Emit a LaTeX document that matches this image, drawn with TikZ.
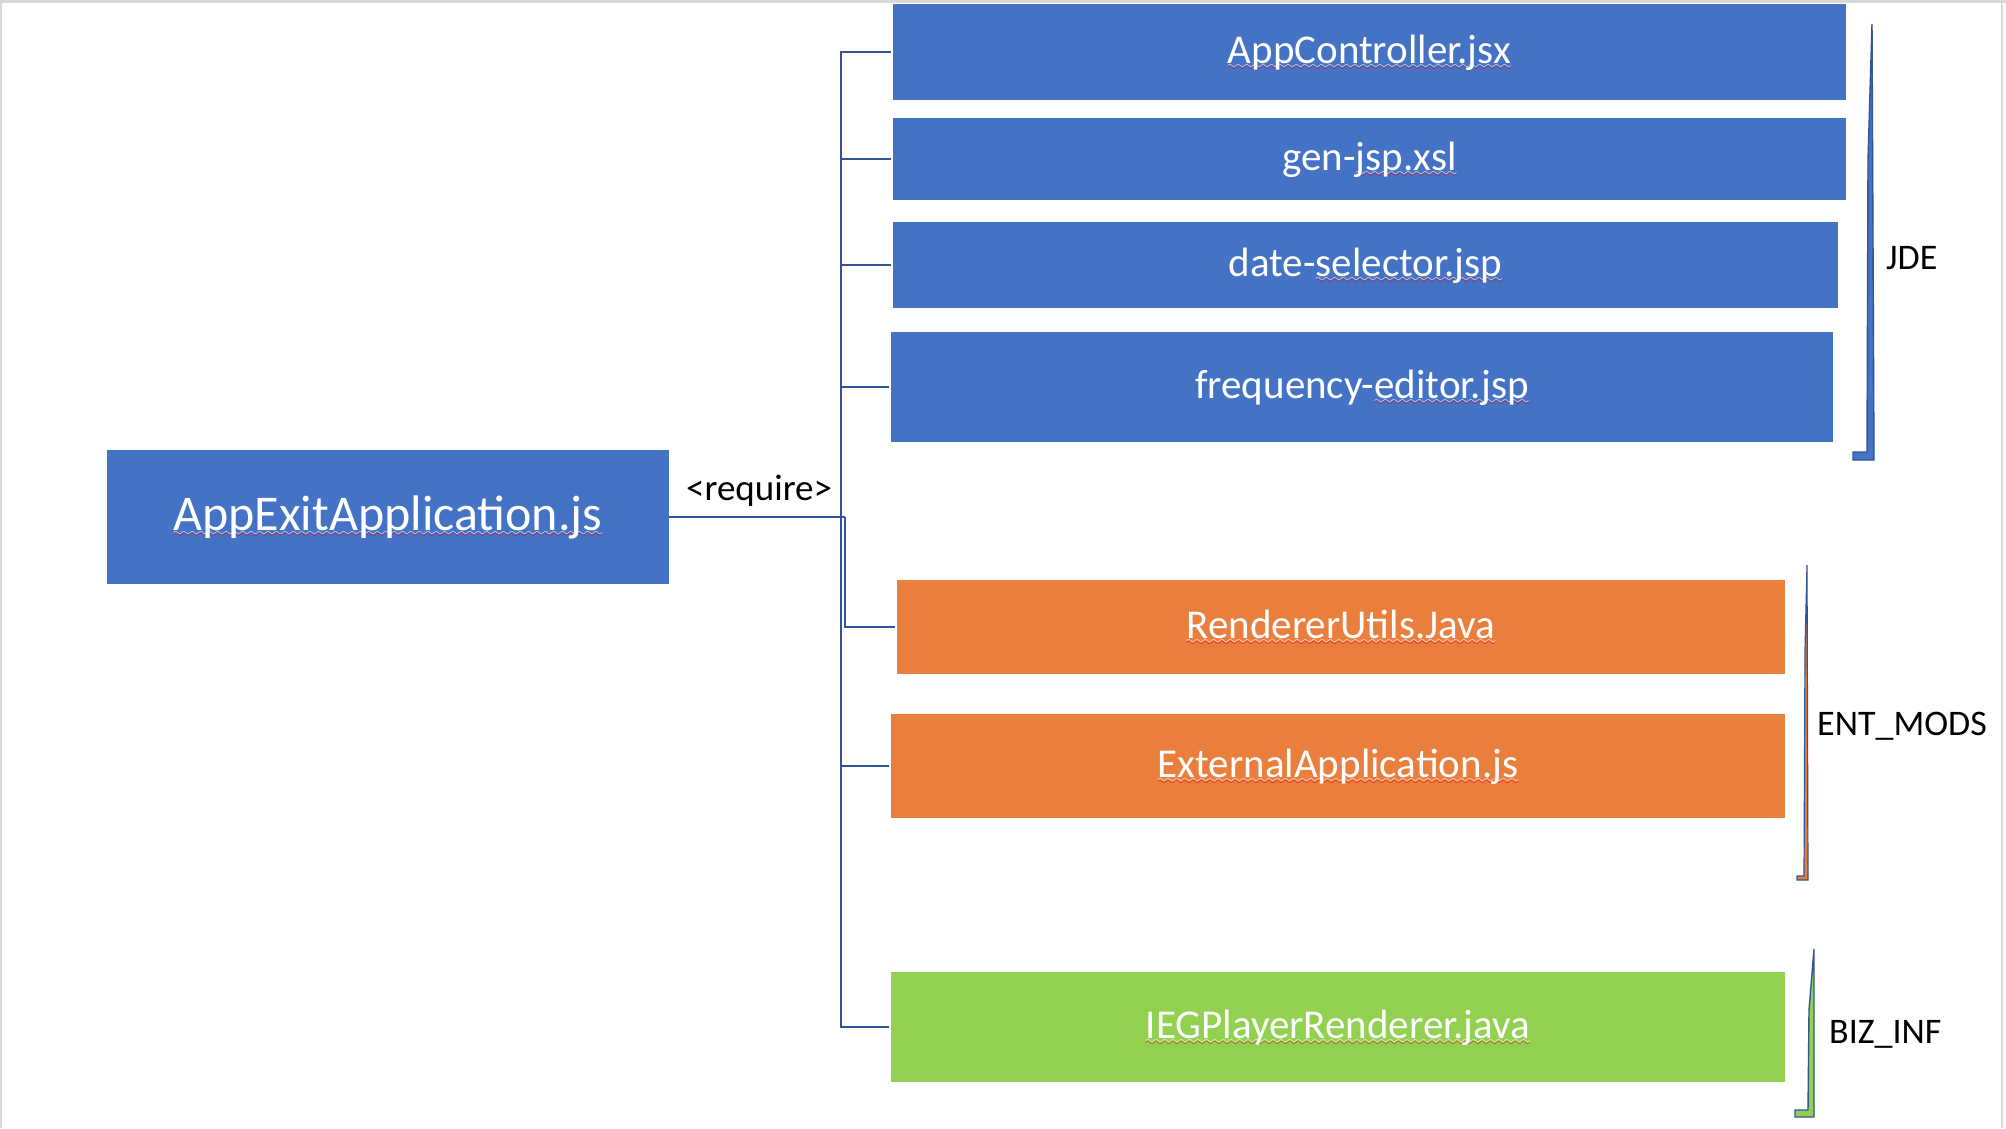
\documentclass[tikz,border=0pt]{standalone}
\usepackage{fontspec}
\setmainfont{Carlito}
\usetikzlibrary{calc}
\definecolor{boxblue}{HTML}{4472C4}
\definecolor{boxorange}{HTML}{EA7E3D}
\definecolor{boxgreen}{HTML}{92D050}
\definecolor{linkblue}{HTML}{2F5597}
\definecolor{squig}{HTML}{E8101A}
\definecolor{framegray}{HTML}{D9D9D9}
\font\wavefont=lasy6 at 10pt
\newcommand\wavebar[2]{\rlap{\lower#2\hbox to \wd0{\color{#1}\xleaders\hbox{\wavefont\char58}\hfil}}}
\newcommand\sq[1]{\setbox0=\hbox{#1}\wavebar{white}{5.5pt}\wavebar{squig}{7pt}\box0}
\begin{document}
\begin{tikzpicture}[x=1pt,y=-1pt,
  filebox/.style={draw=none,inner sep=0pt,outer sep=0pt,anchor=north west,
    text=white,font=\fontsize{41}{49}\selectfont,text height=22pt,text depth=0pt},
  conn/.style={draw=linkblue,line width=2pt},
  tag/.style={inner sep=0pt,anchor=west,font=\fontsize{36}{43}\selectfont,text=black},
  brk/.style={draw=linkblue,line width=1.4pt,line join=miter}]
\useasboundingbox (0,0) rectangle (2006,1128);
\fill[white] (0,0) rectangle (2006,1128);
\draw[framegray,line width=3pt] (0,1.5) -- (2006,1.5);
\draw[framegray,line width=2pt] (2002,0) -- (2002,1128);
\draw[framegray,line width=1.5pt] (0.75,0) -- (0.75,1128);

\node[filebox,fill=boxblue,minimum width=562,minimum height=134,font=\fontsize{50}{60}\selectfont,text height=26pt] (app) at (107,450) {\sq{AppExitApplication.js}};

\node[filebox,fill=boxblue,minimum width=953,minimum height=96] (c1) at (893,4) {\sq{AppController.jsx}};
\node[filebox,fill=boxblue,minimum width=953,minimum height=82] (c2) at (893,118) {gen-\sq{jsp.xsl}};
\node[filebox,fill=boxblue,minimum width=945,minimum height=86] (c3) at (893,222) {date-\sq{selector.jsp}};
\node[filebox,fill=boxblue,minimum width=942,minimum height=110] (c4) at (891,332) {frequency-\sq{editor.jsp}};
\node[filebox,fill=boxorange,minimum width=888,minimum height=94] (c5) at (897,580) {\sq{RendererUtils.Java}};
\node[filebox,fill=boxorange,minimum width=894,minimum height=104] (c6) at (891,714) {\sq{ExternalApplication.js}};
\node[filebox,fill=boxgreen,minimum width=894,minimum height=110] (c7) at (891,972) {\sq{IEGPlayerRenderer.java}};

\coordinate (j1) at (841,517);
\coordinate (j2) at (845,517);
\draw[conn] (app.east) -- (j2);
\foreach \c in {c1,c2,c3,c4,c6,c7} {\draw[conn] (j1) |- ([xshift=-2pt]\c.west);}
\draw[conn] (j2) |- ([xshift=-2pt]c5.west);

\node[tag,font=\fontsize{37}{44}\selectfont] (req) at (686,491) {<require>};

\draw[brk,fill=boxblue] (1872,24) -- (1874,460) -- (1853,460) -- (1853,452) -- (1867,452) -- (1868,160) -- cycle;
\draw[brk,fill=boxorange,line width=1.2pt] (1807,565) -- (1808,880) -- (1797,880) -- (1797,876) -- (1804,876) -- (1805,650) -- cycle;
\draw[brk,fill=boxgreen] (1814,949) -- (1814,1117) -- (1795,1117) -- (1795,1110) -- (1808,1110) -- (1809,1010) -- cycle;

\node[tag] (jde) at (1886,258) {JDE};
\node[tag] (ent) at (1817,726) {ENT\_MODS};
\node[tag] (biz) at (1829,1034) {BIZ\_INF};
\end{tikzpicture}
\end{document}
